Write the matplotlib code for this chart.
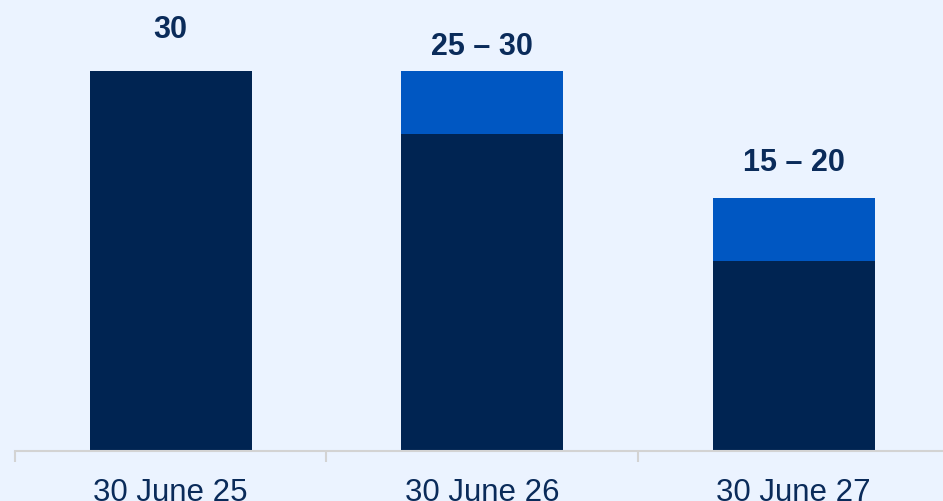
import matplotlib.pyplot as plt
import numpy as np

plt.rcParams['font.family'] = ['Liberation Sans', 'DejaVu Sans']

categories = ['30 June 25', '30 June 26', '30 June 27']
low_values = [30, 25, 15]
high_values = [30, 30, 20]
value_labels = ['30', '25 – 30', '15 – 20']

BG = '#EBF3FF'
NAVY = '#002452'
BLUE = '#0057C2'
TEXT = '#0A2B5A'

fig = plt.figure(figsize=(9.43, 5.02), dpi=100, facecolor=BG)
ax = fig.add_axes([15 / 943, 50 / 502, 928 / 943, 452 / 502])
ax.set_facecolor(BG)

x = np.arange(len(categories))
low = np.array(low_values)
high = np.array(high_values)
width = 0.52

ax.bar(x, low, width=width, color=NAVY, zorder=2)
ax.bar(x, high - low, bottom=low, width=width, color=BLUE, zorder=2)

# label gaps above the bar tops, in data units (they are not uniform in the original)
label_gap = [3.3, 1.95, 2.8]
for xi, top, lab, gap in zip(x, high, value_labels, label_gap):
    ax.text(xi, top + gap, lab, ha='center', va='center', fontsize=22,
            fontweight='bold', color=TEXT)

ax.set_xlim(-0.5 + 1.5 / 312, -0.5 + 929.5 / 312)
ax.set_ylim(0, 452 / (380 / 30))

for side in ['top', 'right', 'left']:
    ax.spines[side].set_visible(False)
ax.spines['bottom'].set_color('#D3D3D3')
ax.spines['bottom'].set_linewidth(1.5)

ax.set_yticks([])
ax.set_xticks(x)
ax.set_xticklabels(categories, fontsize=22.5, color=TEXT)
ax.tick_params(axis='x', which='major', length=0, pad=19)
ax.set_xticks([-0.5, 0.5, 1.5], minor=True)
ax.tick_params(axis='x', which='minor', length=8, width=1.5, color='#D3D3D3')

fig.savefig('out.png', dpi=100, facecolor=BG)
